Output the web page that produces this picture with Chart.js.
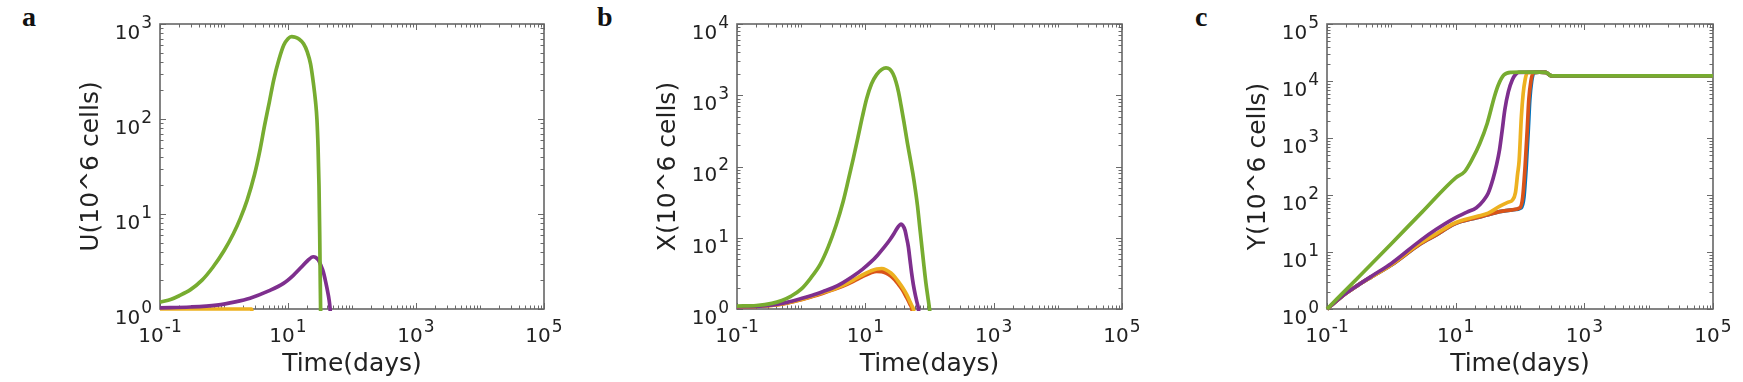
<!DOCTYPE html>
<html>
<head>
<meta charset="utf-8">
<script src="https://cdn.jsdelivr.net/npm/chart.js@4.4.1/dist/chart.umd.min.js"></script>
<style>
html,body{margin:0;padding:0;background:#fff;width:1743px;height:382px;overflow:hidden;position:relative;}
canvas{position:absolute;top:0;}
.lbl{position:absolute;top:3px;font-family:"Liberation Serif","Times New Roman",serif;font-weight:bold;font-size:28px;line-height:1;color:#111;}
</style>
</head>
<body>
<div class="lbl" style="left:22px">a</div>
<div class="lbl" style="left:597px">b</div>
<div class="lbl" style="left:1195px">c</div>
<canvas id="ca" width="580" height="382" style="left:0px"></canvas>
<canvas id="cb" width="580" height="382" style="left:580px"></canvas>
<canvas id="cc" width="583" height="382" style="left:1160px"></canvas>
<script>
// ---------- tick values and labels (base 10, exponent drawn as superscript) ----------
const xTickValues = [0.1, 10, 1000, 100000];
const xTickExps   = ['-1', '1', '3', '5'];
const yTickValuesA = [1, 10, 100, 1000];
const yTickExpsA   = ['0', '1', '2', '3'];
const yTickValuesB = [1, 10, 100, 1000, 10000];
const yTickExpsB   = ['0', '1', '2', '3', '4'];
const yTickValuesC = [1, 10, 100, 1000, 10000, 100000];
const yTickExpsC   = ['0', '1', '2', '3', '4', '5'];
const xTitle = 'Time(days)';
const yTitles = ['U(10^6 cells)', 'X(10^6 cells)', 'Y(10^6 cells)'];

// ---------- panel a : U ----------
const aGreenT  = [0.1, 0.15, 0.2, 0.3, 0.45, 0.67, 1.0, 1.4, 1.8, 2.3, 3.0, 3.6, 4.3, 5.1, 6.0, 7.2, 8.6, 10, 11.4, 13, 15, 17.5, 20, 22.5, 25, 27, 28.3, 29.5, 30.5, 31.3, 31.9, 32.3, 32.6];
const aGreenV  = [1.18, 1.27, 1.38, 1.6, 2.0, 2.75, 4.1, 6.2, 9.0, 14, 26, 45, 85, 150, 260, 420, 600, 700, 735, 725, 690, 620, 510, 380, 235, 150, 100, 50, 20, 6, 2, 1.0, 0.7];
const aPurpleT = [0.1, 0.3, 0.77, 1.5, 2.55, 5, 8.5, 12, 15.5, 20, 24.8, 27, 29.8, 32.5, 35.6, 38, 40.2, 42, 43.7, 45.3, 46.5];
const aPurpleV = [1.03, 1.05, 1.10, 1.19, 1.30, 1.55, 1.86, 2.25, 2.68, 3.2, 3.55, 3.5, 3.28, 2.9, 2.47, 2.05, 1.72, 1.48, 1.27, 1.04, 0.8];
const aYellowT = [0.1, 0.5, 1.0, 2.0, 2.7, 2.8];
const aYellowV = [1.0, 1.0, 1.0, 1.0, 1.0, 0.7];

// ---------- panel b : X ----------
const bGreenT  = [0.1, 0.2, 0.35, 0.5, 0.7, 1.0, 1.4, 2.0, 2.65, 3.5, 4.5, 5.5, 6.5, 7.7, 9, 10.5, 12.5, 15, 18, 21, 24, 27, 30, 33, 36, 40, 45, 50, 55, 60, 65, 70, 76, 82, 88, 94, 100, 104];
const bGreenV  = [1.1, 1.12, 1.2, 1.32, 1.52, 1.9, 2.7, 4.3, 7.5, 15, 32, 68, 130, 260, 500, 900, 1450, 1950, 2300, 2420, 2320, 2000, 1550, 1100, 720, 420, 220, 130, 80, 48, 28, 15, 7.5, 4, 2.3, 1.5, 1.0, 0.7];
const bPurpleT = [0.1, 0.2, 0.37, 0.6, 1.0, 1.5, 2.2, 3.2, 4.5, 6.5, 9, 12, 15.5, 20, 24, 28, 31, 34, 36, 38, 41.5, 44, 46.8, 49.5, 52.7, 56, 59.4, 63, 67, 70];
const bPurpleV = [1.07, 1.09, 1.14, 1.24, 1.4, 1.56, 1.76, 2.0, 2.35, 2.9, 3.6, 4.5, 5.7, 7.5, 9.3, 11.5, 13.4, 15.0, 15.5, 15.0, 12.8, 10, 7.5, 5, 3.17, 2.2, 1.66, 1.3, 1.02, 0.7];
const bYellowT = [0.1, 0.2, 0.37, 0.6, 1.0, 1.5, 2.2, 3.2, 4.5, 6.5, 9, 12, 15, 18, 21, 25, 29, 33, 38, 44, 50, 54, 56, 58];
const bYellowV = [1.07, 1.09, 1.13, 1.22, 1.36, 1.52, 1.7, 1.9, 2.15, 2.55, 3.0, 3.4, 3.65, 3.7, 3.55, 3.2, 2.8, 2.4, 2.0, 1.6, 1.25, 1.08, 1.0, 0.8];
const bRedT    = [0.1, 0.2, 0.37, 0.6, 1.0, 1.5, 2.2, 3.2, 4.5, 6.5, 9, 12, 15, 18, 21, 25, 29, 33, 38, 44, 50, 53, 55];
const bRedV    = [1.07, 1.09, 1.13, 1.21, 1.35, 1.5, 1.67, 1.87, 2.1, 2.45, 2.85, 3.2, 3.38, 3.35, 3.2, 2.9, 2.55, 2.2, 1.85, 1.45, 1.15, 1.02, 0.8];

// ---------- panel c : Y ----------
const cGreenT  = [0.1, 0.3, 1, 3, 10, 13.8, 18, 23.7, 31, 40, 46, 56, 73, 100, 200, 250, 275, 300, 350, 1000, 10000, 100000];
const cGreenV  = [1, 3.5, 14, 50, 200, 257, 420, 800, 1820, 5300, 8500, 12700, 14200, 14300, 14300, 14200, 13400, 12400, 12300, 12300, 12300, 12300];
const cPurpleT = [0.1, 0.2, 0.3, 0.5, 1, 2.85, 5, 9.5, 15, 21, 27, 32, 38, 43, 48, 53, 58, 66, 76, 85, 95, 200, 250, 300, 350, 100000];
const cPurpleV = [1, 1.9, 2.6, 3.8, 6.3, 16, 25, 39, 50, 60, 80, 107, 190, 330, 615, 1400, 3100, 6500, 10500, 13000, 14200, 14300, 14200, 12400, 12300, 12300];
const cYellowT = [0.1, 0.2, 0.3, 0.5, 1, 2.85, 5, 9.5, 21, 32, 48, 66, 76, 85, 92, 97, 105, 112, 120, 130, 200, 250, 300, 350, 100000];
const cYellowV = [1, 1.9, 2.6, 3.7, 6.0, 14.5, 21, 32, 42, 48, 63, 75, 81, 110, 240, 400, 2350, 6000, 10500, 14000, 14300, 14200, 12400, 12300, 12300];
const cRedT    = [0.1, 0.2, 0.3, 0.5, 1, 2.85, 5, 9.5, 21, 32, 48, 76, 100, 110, 120, 130, 137, 148, 160, 200, 250, 300, 350, 100000];
const cRedV    = [1, 1.9, 2.6, 3.7, 5.9, 14, 20, 31, 40, 45, 51, 55, 60, 90, 316, 1500, 4650, 10000, 14000, 14300, 14200, 12400, 12300, 12300];
const cBlueT   = [0.1, 0.2, 0.3, 0.5, 1, 2.85, 5, 9.5, 21, 32, 48, 76, 105, 115, 125, 135, 142, 152, 165, 200, 250, 300, 350, 100000];
const cBlueV   = [1, 1.9, 2.6, 3.7, 5.9, 14, 20, 31, 40, 45, 51, 55, 60, 90, 316, 1500, 4650, 10000, 14000, 14300, 14200, 12400, 12300, 12300];

// ---------- styling ----------
const COLORS = {green:'#77AC30', purple:'#7E2F8E', yellow:'#EDB120', red:'#D95319', blue:'#0072BD'};
const TEXT = '#222222';
const FONT = 'DejaVu Sans';
const TITLE_SIZE = 25;

function series(t, v, color) {
  return {
    data: t.map((x, i) => ({x: x, y: v[i]})),
    borderColor: color, backgroundColor: color,
    borderWidth: 3.7, pointRadius: 0, fill: false, clip: 2,
    cubicInterpolationMode: 'monotone'
  };
}

// draws "10" with a raised exponent
function drawPower(ctx, exp, xLeft, baseY, supY) {
  ctx.font = '20px "' + FONT + '"';
  ctx.fillText('10', xLeft, baseY);
  const w = ctx.measureText('10').width;
  ctx.font = '17px "' + FONT + '"';
  ctx.fillText(exp, xLeft + w + 1, supY);
}
function powerWidth(ctx, exp) {
  ctx.font = '20px "' + FONT + '"';
  const w = ctx.measureText('10').width;
  ctx.font = '17px "' + FONT + '"';
  return w + 1 + ctx.measureText(exp).width;
}

const boxPlugin = {
  id: 'matlabBox',
  beforeDatasetsDraw(chart, args, opts) {
    const {ctx, chartArea: a} = chart;
    const xs = chart.scales.x, ys = chart.scales.y;
    ctx.save();
    // inward ticks on all four sides
    ctx.strokeStyle = '#6a6a6a';
    ctx.lineWidth = 1;
    ctx.beginPath();
    const x0 = Math.round(Math.log10(xs.min)), x1 = Math.round(Math.log10(xs.max));
    for (let e = x0; e <= x1; e++) {
      for (let m = 1; m < 10; m++) {
        if (e === x1 && m > 1) break;
        const v = m * Math.pow(10, e);
        const p = Math.round(xs.getPixelForValue(v)) + 0.5;
        const L = (m === 1 && xTickValues.includes(v)) ? 6 : 3.5;
        ctx.moveTo(p, a.bottom); ctx.lineTo(p, a.bottom - L);
        ctx.moveTo(p, a.top); ctx.lineTo(p, a.top + L);
      }
    }
    const y0 = Math.round(Math.log10(ys.min)), y1 = Math.round(Math.log10(ys.max));
    for (let e = y0; e <= y1; e++) {
      for (let m = 1; m < 10; m++) {
        if (e === y1 && m > 1) break;
        const v = m * Math.pow(10, e);
        const p = Math.round(ys.getPixelForValue(v)) + 0.5;
        const L = m === 1 ? 6 : 3.5;
        ctx.moveTo(a.left, p); ctx.lineTo(a.left + L, p);
        ctx.moveTo(a.right, p); ctx.lineTo(a.right - L, p);
      }
    }
    ctx.stroke();
    ctx.lineWidth = 1.6;
    ctx.strokeStyle = '#666';
    ctx.strokeRect(a.left, a.top, a.right - a.left, a.bottom - a.top);

    // tick labels from the scales' own tick values
    ctx.fillStyle = TEXT;
    ctx.textAlign = 'left';
    ctx.textBaseline = 'alphabetic';
    xs.ticks.forEach(t => {
      const exp = xTickExps[xTickValues.indexOf(t.value)];
      const px = xs.getPixelForValue(t.value);
      const w = powerWidth(ctx, exp);
      drawPower(ctx, exp, px - w / 2, a.bottom + 33, a.bottom + 22.5);
    });
    ys.ticks.forEach(t => {
      const exp = opts.yExps[opts.yVals.indexOf(t.value)];
      const py = ys.getPixelForValue(t.value);
      const w = powerWidth(ctx, exp);
      drawPower(ctx, exp, a.left - 8 - w, py + 14.8, py + 3.8);
    });
    ctx.restore();
  }
};

function makePanel(id, boxLeft, boxRight, canvasW, yMax, yVals, yExps, yTitle, datasets) {
  new Chart(document.getElementById(id), {
    type: 'line',
    data: {datasets: datasets},
    plugins: [boxPlugin],
    options: {
      responsive: false, animation: false, events: [],
      layout: {padding: {left: 0, top: 24, right: canvasW - boxRight, bottom: 0}},
      plugins: {legend: {display: false}, tooltip: {enabled: false},
                matlabBox: {yVals: yVals, yExps: yExps}},
      scales: {
        x: {
          type: 'logarithmic', min: 0.1, max: 100000,
          grid: {display: false, drawTicks: false}, border: {display: false},
          afterBuildTicks: s => { s.ticks = xTickValues.map(v => ({value: v})); },
          afterFit: s => { s.height = 382 - 309; },
          ticks: {display: false, autoSkip: false},
          title: {display: true, text: xTitle, color: TEXT, font: {family: FONT, size: TITLE_SIZE}, padding: {top: 0, bottom: 3}}
        },
        y: {
          type: 'logarithmic', min: 1, max: yMax,
          grid: {display: false, drawTicks: false}, border: {display: false},
          afterBuildTicks: s => { s.ticks = yVals.map(v => ({value: v})); },
          afterFit: s => { s.width = boxLeft; },
          ticks: {display: false, autoSkip: false},
          title: {display: true, text: yTitle, color: TEXT, font: {family: FONT, size: TITLE_SIZE}, padding: {top: boxLeft - 69 - TITLE_SIZE * 0.6, bottom: 0}}
        }
      }
    }
  });
}

makePanel('ca', 160, 544, 580, 1000, yTickValuesA, yTickExpsA, yTitles[0], [
  series(aGreenT, aGreenV, COLORS.green),
  series(aPurpleT, aPurpleV, COLORS.purple),
  series(aYellowT, aYellowV, COLORS.yellow)
]);
makePanel('cb', 157, 542, 580, 10000, yTickValuesB, yTickExpsB, yTitles[1], [
  series(bGreenT, bGreenV, COLORS.green),
  series(bPurpleT, bPurpleV, COLORS.purple),
  series(bYellowT, bYellowV, COLORS.yellow),
  series(bRedT, bRedV, COLORS.red)
]);
makePanel('cc', 167, 553, 583, 100000, yTickValuesC, yTickExpsC, yTitles[2], [
  series(cGreenT, cGreenV, COLORS.green),
  series(cPurpleT, cPurpleV, COLORS.purple),
  series(cYellowT, cYellowV, COLORS.yellow),
  series(cRedT, cRedV, COLORS.red),
  series(cBlueT, cBlueV, COLORS.blue)
]);
</script>
</body>
</html>
